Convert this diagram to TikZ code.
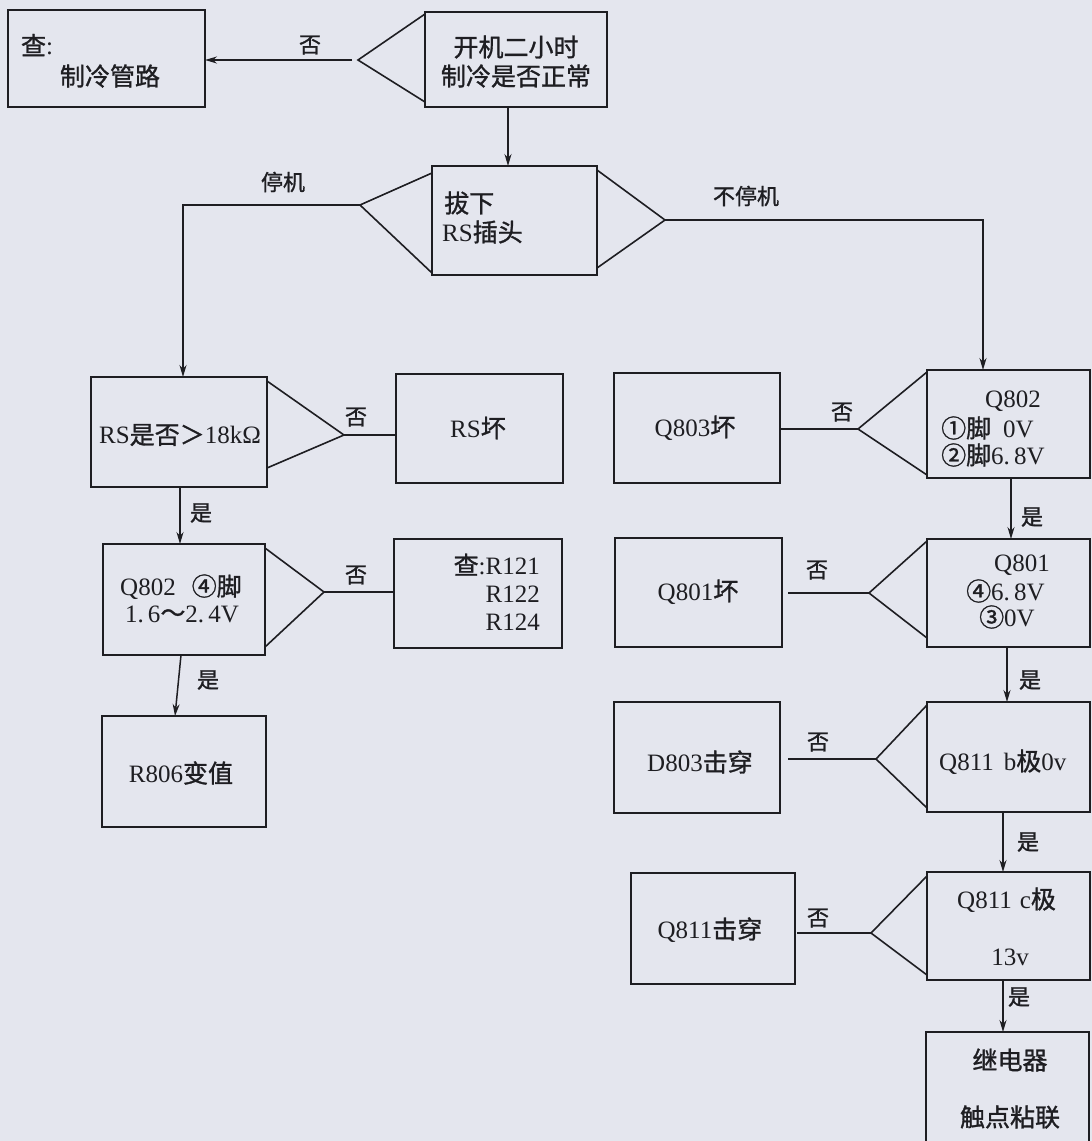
\documentclass[tikz,border=0pt]{standalone}
\usepackage{fontspec}
\setmainfont{Liberation Serif}
\newfontfamily\cjk[FakeBold=1.2]{Noto Sans CJK SC}
\usetikzlibrary{arrows.meta}
\definecolor{bg}{RGB}{228,230,238}
\definecolor{ink}{RGB}{30,30,34}
\newcommand\zh[1]{{\cjk #1}}
\begin{document}
\begin{tikzpicture}[x=1pt,y=-1pt,
  box/.style={draw=ink,line width=1.6pt,inner sep=0pt,outer sep=0pt},
  txt/.style={text=ink,font=\fontsize{25}{28}\selectfont,inner sep=0pt},
  lbl/.style={text=ink,font=\fontsize{22}{25}\selectfont\cjk,inner sep=0pt},
  wire/.style={draw=ink,line width=1.5pt},
  arr/.style={wire,-{Stealth[length=12pt,width=7pt]}},
  tri/.style={draw=ink,line width=1.6pt,line join=miter}]
\fill[bg] (0,0) rectangle (1092,1141);
\useasboundingbox (0,0) rectangle (1092,1141);
\clip (0,0) rectangle (1092,1141);

% ---------- boxes ----------
\node[box,minimum width=197pt,minimum height=97pt] (b1) at (106.5,58.5) {};
\node[box,minimum width=182pt,minimum height=95pt] (b2) at (516,59.5) {};
\node[box,minimum width=165pt,minimum height=109pt] (b3) at (514.5,220.5) {};
\node[box,minimum width=176pt,minimum height=110pt] (b4) at (179,432) {};
\node[box,minimum width=167pt,minimum height=109pt] (b5) at (479.5,428.5) {};
\node[box,minimum width=162pt,minimum height=111pt] (b6) at (184,599.5) {};
\node[box,minimum width=168pt,minimum height=109pt] (b7) at (478,593.5) {};
\node[box,minimum width=164pt,minimum height=111pt] (b8) at (184,771.5) {};
\node[box,minimum width=166pt,minimum height=110pt] (b9) at (697,428) {};
\node[box,minimum width=163pt,minimum height=108pt] (b10) at (1008.5,424) {};
\node[box,minimum width=167pt,minimum height=109pt] (b11) at (698.5,592.5) {};
\node[box,minimum width=163pt,minimum height=108pt] (b12) at (1008.5,593) {};
\node[box,minimum width=166pt,minimum height=111pt] (b13) at (697,757.5) {};
\node[box,minimum width=163pt,minimum height=110pt] (b14) at (1008.5,757) {};
\node[box,minimum width=164pt,minimum height=111pt] (b15) at (713,928.5) {};
\node[box,minimum width=163pt,minimum height=108pt] (b16) at (1008.5,926) {};
\node[box,minimum width=163pt,minimum height=140pt] (b17) at (1007.5,1102) {};

% ---------- box texts ----------
\node[txt] (t1a) at (37,45) {\zh{查}:};
\node[txt] (t1b) at (110,76) {\zh{制冷管路}};
\node[txt] (t2a) at (516,47) {\zh{开机二小时}};
\node[txt] (t2b) at (516,76) {\zh{制冷是否正常}};
\node[txt,anchor=west] (t3a) at (444,203) {\zh{拔下}};
\node[txt,anchor=west] (t3b) at (442,232) {RS\zh{插头}};
\node[txt] (t4) at (180,435) {RS\zh{是否＞}18kΩ};
\node[txt] (t5) at (478,428) {RS\zh{坏}};
\node[txt] (t6a) at (181,587) {Q802\hspace{16pt}\zh{④脚}};
\node[txt] (t6b) at (182,614) {1.\,6\zh{～}2.\,4V};
\node[txt,anchor=east,align=right] (t7) at (540,592) {\zh{查}:R121\\R122\\R124};
\node[txt] (t8) at (181,773) {R806\zh{变值}};
\node[txt] (t9) at (695,428) {Q803\zh{坏}};
\node[txt] (t10a) at (1013,401) {Q802};
\node[txt,anchor=west] (t10b) at (941,428) {\zh{①脚}\hspace{12pt}0V};
\node[txt,anchor=west] (t10c) at (941,455) {\zh{②脚}6.\,8V};
\node[txt] (t11) at (698,592) {Q801\zh{坏}};
\node[txt] (t12a) at (1022,565) {Q801};
\node[txt,anchor=west] (t12b) at (966,591) {\zh{④}6.\,8V};
\node[txt,anchor=west] (t12c) at (979,617) {\zh{③}0V};
\node[txt] (t13) at (700,762) {D803\zh{击穿}};
\node[txt,anchor=west] (t14) at (939,762) {Q811\hspace{10pt}b\zh{极}0v};
\node[txt] (t15) at (710,930) {Q811\zh{击穿}};
\node[txt,anchor=west] (t16a) at (957,900) {Q811\hspace{8pt}c\zh{极}};
\node[txt] (t16b) at (1010,957) {13v};
\node[txt] (t17a) at (1010,1060) {\zh{继电器}};
\node[txt] (t17b) at (1010,1117) {\zh{触点粘联}};

% ---------- triangle tips ----------
\coordinate (p2) at (358,60);
\coordinate (p3l) at (360,205);
\coordinate (p3r) at (665,220);
\coordinate (p4) at (344,435);
\coordinate (p6) at (324,592);
\coordinate (p10) at (858,429);
\coordinate (p12) at (869,593);
\coordinate (p14) at (876,759);
\coordinate (p16) at (871,933);
\coordinate (k1) at (183,205);
\coordinate (k2) at (983,220);

% ---------- triangles ----------
\draw[tri] (425,14) -- (p2) -- (425,102);
\draw[tri] (432,173) -- (p3l) -- (432,273);
\draw[tri] (597,170) -- (p3r) -- (597,268);
\draw[tri] (267,381) -- (p4) -- (267,468);
\draw[tri] (265,548) -- (p6) -- (265,647);
\draw[tri] (927,372) -- (p10) -- (927,475);
\draw[tri] (927,541) -- (p12) -- (927,638);
\draw[tri] (927,705) -- (p14) -- (927,808);
\draw[tri] (927,876) -- (p16) -- (927,975);

% ---------- connectors ----------
\draw[arr] ([xshift=-6pt]p2) -- (p2 -| b1.east);
\draw[arr] (b2.south -| 508,0) -- (b3.north -| 508,0);
\draw[arr] (p3l) -- (k1) -- (b4.north -| k1);
\draw[arr] (p3r) -- (k2) -- (b10.north -| k2);
\draw[wire] (p4) -- (p4 -| b5.west);
\draw[arr] (b4.south -| 180,0) -- (b6.north -| 180,0);
\draw[wire] (p6) -- (p6 -| b7.west);
\draw[arr] (b6.south -| 181,0) -- (b8.north -| 175,0);
\draw[wire] (p10) -- (p10 -| b9.east);
\draw[arr] (b10.south -| 1011,0) -- (b12.north -| 1011,0);
\draw[wire] (p12) -- ([xshift=6pt]p12 -| b11.east);
\draw[arr] (b12.south -| 1007,0) -- (b14.north -| 1007,0);
\draw[wire] (p14) -- ([xshift=8pt]p14 -| b13.east);
\draw[arr] (b14.south -| 1003,0) -- (b16.north -| 1003,0);
\draw[wire] (p16) -- ([xshift=2pt]p16 -| b15.east);
\draw[arr] (b16.south -| 1003,0) -- (b17.north -| 1003,0);

% ---------- connector labels ----------
\node[lbl] (l1) at (310,45) {否};
\node[lbl] (l2) at (283,182) {停机};
\node[lbl] (l3) at (746,196) {不停机};
\node[lbl] (l4) at (356,417) {否};
\node[lbl] (l5) at (201,513) {是};
\node[lbl] (l6) at (356,575) {否};
\node[lbl] (l7) at (208,680) {是};
\node[lbl] (l8) at (842,412) {否};
\node[lbl] (l9) at (1032,517) {是};
\node[lbl] (l10) at (817,570) {否};
\node[lbl] (l11) at (1030,680) {是};
\node[lbl] (l12) at (818,742) {否};
\node[lbl] (l13) at (1028,842) {是};
\node[lbl] (l14) at (818,918) {否};
\node[lbl] (l15) at (1019,997) {是};
\end{tikzpicture}
\end{document}
